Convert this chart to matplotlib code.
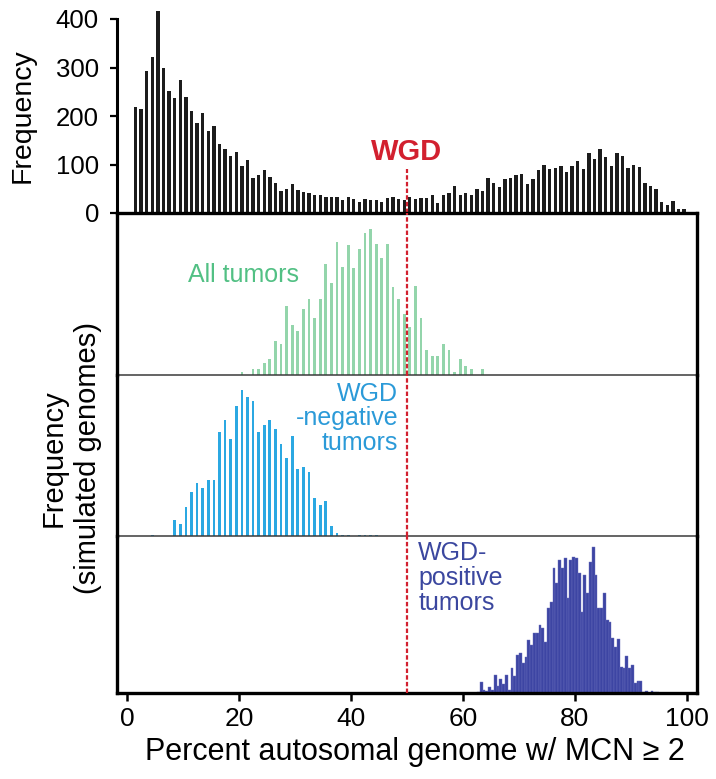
import numpy as np
import matplotlib
matplotlib.use("Agg")
import matplotlib.pyplot as plt

plt.rcParams["font.family"] = ["Liberation Sans", "DejaVu Sans"]

# observed tumours, 1% bins (1..99)
top_bins = np.arange(1, 100)
top_freq = [219, 215, 292, 321, 417, 298, 252, 238, 274, 239, 210, 186, 207, 170, 179, 143, 132, 117, 126, 97,
            110, 72, 79, 89, 74, 61, 45, 50, 60, 48, 44, 42, 37, 37, 32, 34, 34, 26, 32, 28,
            22, 28, 26, 26, 23, 31, 34, 28, 27, 34, 28, 30, 31, 37, 21, 37, 42, 55, 38, 42,
            37, 49, 45, 72, 62, 54, 71, 72, 79, 81, 60, 71, 88, 99, 91, 93, 97, 85, 97, 108,
            90, 124, 112, 131, 116, 97, 124, 118, 93, 99, 95, 61, 55, 50, 23, 16, 24, 8, 9]

# simulated genomes
all_bins = np.arange(20, 64)
all_freq = [2, 0, 4, 4, 8, 11, 23, 21, 47, 34, 30, 45, 52, 39, 52, 76, 63, 91, 74, 89,
            73, 86, 97, 100, 90, 80, 90, 60, 52, 42, 33, 61, 39, 17, 13, 13, 21, 17, 2, 11,
            6, 4, 0, 4]

neg_bins = np.arange(4, 45)
neg_freq = [1, 0, 0, 0, 11, 8, 20, 30, 36, 33, 38, 38, 71, 79, 66, 89, 100, 95, 92, 71,
            76, 79, 73, 63, 53, 68, 46, 47, 44, 26, 21, 24, 7, 2, 1, 1, 0, 1, 1, 1, 0.5]

# WGD-positive uses half-percent bins starting at 62.5
pos_start = 62.5
pos_freq = [1, 11, 3, 2, 6, 3, 18, 7, 14, 9, 18, 3, 25, 17, 38, 40, 30, 36, 53, 48,
            60, 60, 68, 65, 51, 85, 91, 125, 110, 133, 125, 135, 95, 133, 136, 135, 120, 81, 118, 100,
            131, 146, 118, 85, 85, 100, 73, 71, 55, 46, 54, 26, 25, 37, 25, 28, 10, 12, 12, 1,
            2, 0, 2, 1, 1]
pos_bins = pos_start + 0.5 * np.arange(len(pos_freq))

wgd_cut = 50
xticks = [0, 20, 40, 60, 80, 100]

red = "#d2202f"
W, H = 716, 779
fig = plt.figure(figsize=(W / 100, H / 100), dpi=100)

def box(x0, y0, x1, y1):
    # pixel box (top-left origin) -> figure fraction rect
    return [x0 / W, 1 - y1 / H, (x1 - x0) / W, (y1 - y0) / H]

xl = (-1.8, 101.8)

# ---- top histogram
ax0 = fig.add_axes(box(117, 19, 697, 213))
ax0.bar(top_bins + 0.5, top_freq, width=0.6, color="#1c1c1c", clip_on=False)
ax0.set_xlim(*xl)
ax0.set_ylim(0, 400)
ax0.set_yticks([0, 100, 200, 300, 400])
for s in ["top", "right", "bottom"]:
    ax0.spines[s].set_visible(False)
ax0.spines["left"].set_linewidth(2.2)
ax0.set_xticks([])
ax0.tick_params(axis="y", length=5, width=1.6, pad=8, labelsize=18.5)
ax0.plot([wgd_cut, wgd_cut], [0, 90], color=red, lw=1.6, dashes=(2, 1), clip_on=False)
ax0.text(wgd_cut, 125, "WGD", color=red, fontsize=21, fontweight="bold", ha="center", va="center")
fig.text(23 / W, 1 - 116 / H, "Frequency", rotation=90, ha="center", va="center", fontsize=20.5)

# ---- three stacked panels of simulated genomes
ax1 = fig.add_axes(box(117, 213, 697, 375))
ax2 = fig.add_axes(box(117, 375, 697, 536))
ax3 = fig.add_axes(box(117, 536, 697, 693))

ax1.bar(all_bins + 0.5, all_freq, width=0.48, color="#93d5ab")
ax1.set_ylim(0, 111)
ax2.bar(neg_bins + 0.5, neg_freq, width=0.48, color="#2ba8e2")
ax2.set_ylim(0, 110)
ax3.bar(pos_bins + 0.25, pos_freq, width=0.5, color="#3d45a3", edgecolor="#6a70bd", linewidth=0.3)
ax3.set_ylim(0, 157)

for ax in (ax1, ax2, ax3):
    ax.patch.set_visible(False)
    ax.set_xlim(*xl)
    ax.set_yticks([])
    ax.axvline(wgd_cut, color=red, lw=1.6, dashes=(2, 1), zorder=3)
    for s in ["left", "right", "top", "bottom"]:
        ax.spines[s].set_linewidth(2.4)
        ax.spines[s].set_color("black")
for ax in (ax1, ax2):
    ax.set_xticks([])
    ax.spines["bottom"].set_linewidth(1.1)
    ax.spines["bottom"].set_color("#3a3a3a")
ax2.spines["top"].set_visible(False)
ax3.spines["top"].set_visible(False)

ax3.set_xticks(xticks)
ax3.tick_params(axis="x", length=6, width=1.8, pad=4, labelsize=19)

ax1.text(10.9, 0.62, "All tumors", color="#52c084", fontsize=18, ha="left", va="center",
         transform=ax1.get_xaxis_transform())
ax2.text(48.4, 0.73, "WGD\n-negative\ntumors", color="#2b9ad8", fontsize=18, ha="right", va="center",
         multialignment="right", linespacing=1.05, transform=ax2.get_xaxis_transform())
ax3.text(52.0, 0.73, "WGD-\npositive\ntumors", color="#3b479f", fontsize=18, ha="left", va="center",
         multialignment="left", linespacing=1.05, transform=ax3.get_xaxis_transform())

fig.text(71 / W, 1 - 458 / H, "Frequency\n(simulated genomes)", rotation=90, ha="center", va="center",
         multialignment="center", fontsize=21, linespacing=1.3)
fig.text(415 / W, 1 - 752 / H, "Percent autosomal genome w/ MCN \u2265 2", ha="center", va="center",
         fontsize=22)

fig.savefig("out.png", dpi=100)
